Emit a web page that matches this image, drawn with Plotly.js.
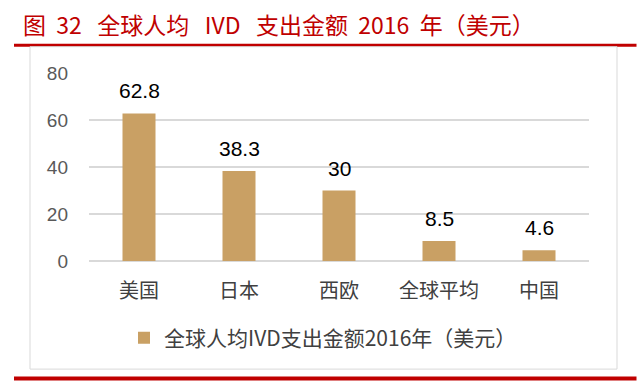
<!DOCTYPE html>
<html>
<head>
<meta charset="utf-8">
<script src="https://cdn.plot.ly/plotly-3.0.1.min.js"></script>
<style>html,body{margin:0;padding:0;background:#fff;}#chart{width:640px;height:383px;}</style>
</head>
<body>
<div id="chart"></div>
<script>
const categories = ['美国', '日本', '西欧', '全球平均', '中国'];
const values = [62.8, 38.3, 30, 8.5, 4.6];
const valueLabels = ['62.8', '38.3', '30', '8.5', '4.6'];
const seriesName = '全球人均IVD支出金额2016年（美元）';
const chartTitle = '图\u00A0\u00A032\u00A0\u00A0\u00A0全球人均\u00A0\u00A0\u00A0IVD\u00A0\u00A0\u00A0支出金额\u00A0\u00A02016\u00A0\u00A0年（美元）';
const yTicks = [0, 20, 40, 60, 80];

const cjk = '"Noto Sans CJK SC", "Noto Sans", sans-serif';

const trace = {
  type: 'bar',
  x: categories,
  y: values,
  name: seriesName,
  marker: {color: '#C9A064'},
  showlegend: true
};

const labelAnnotations = categories.map((c, i) => ({
  x: c, y: values[i], xref: 'x', yref: 'y', text: valueLabels[i],
  showarrow: false, yanchor: 'bottom', yshift: 9,
  font: {family: '"Liberation Sans", "Open Sans", sans-serif', size: 21, color: '#000'}
}));

const layout = {
  width: 640, height: 383,
  margin: {l: 89, r: 51, t: 73, b: 122},
  paper_bgcolor: '#fff', plot_bgcolor: '#fff',
  bargap: 0.67,
  showlegend: true,
  legend: {
    orientation: 'h', x: 0.468, xanchor: 'center', y: -0.41, yanchor: 'middle',
    font: {family: cjk, size: 21, color: '#404040'},
    itemwidth: 30
  },
  xaxis: {
    tickfont: {family: cjk, size: 20, color: '#404040'},
    showline: false, ticks: '', showgrid: false, ticklabelstandoff: 16
  },
  yaxis: {
    range: [0, 80], tickvals: yTicks, ticktext: yTicks.map(String),
    tickfont: {family: '"Liberation Sans", "Open Sans", sans-serif', size: 19, color: '#595959'},
    showgrid: true, gridcolor: '#d9d9d9', gridwidth: 1.3,
    zeroline: true, zerolinecolor: '#d9d9d9', zerolinewidth: 1.3,
    showline: false, ticks: '', ticklen: 0, automargin: false,
    ticklabelstandoff: 20
  },
  annotations: labelAnnotations.concat([{
    text: chartTitle, xref: 'paper', yref: 'paper', x: -0.136, xanchor: 'left',
    y: 1, yanchor: 'bottom', yshift: 30, showarrow: false,
    font: {family: cjk, size: 23, color: '#C00000'}
  }]),
  shapes: [
    {type: 'line', xref: 'paper', yref: 'paper', x0: -0.15, x1: 1.095, y0: 1.147, y1: 1.147,
      line: {color: '#C00000', width: 3}},
    {type: 'rect', xref: 'paper', yref: 'paper', x0: -0.118, x1: 1.056, y0: -0.575, y1: 1.14,
      line: {color: '#d9d9d9', width: 1}},
    {type: 'line', xref: 'paper', yref: 'paper', x0: -0.15, x1: 1.095, y0: -0.625, y1: -0.625,
      line: {color: '#C00000', width: 4}}
  ]
};

Plotly.newPlot('chart', [trace], layout, {displayModeBar: false, staticPlot: true});
</script>
</body>
</html>
